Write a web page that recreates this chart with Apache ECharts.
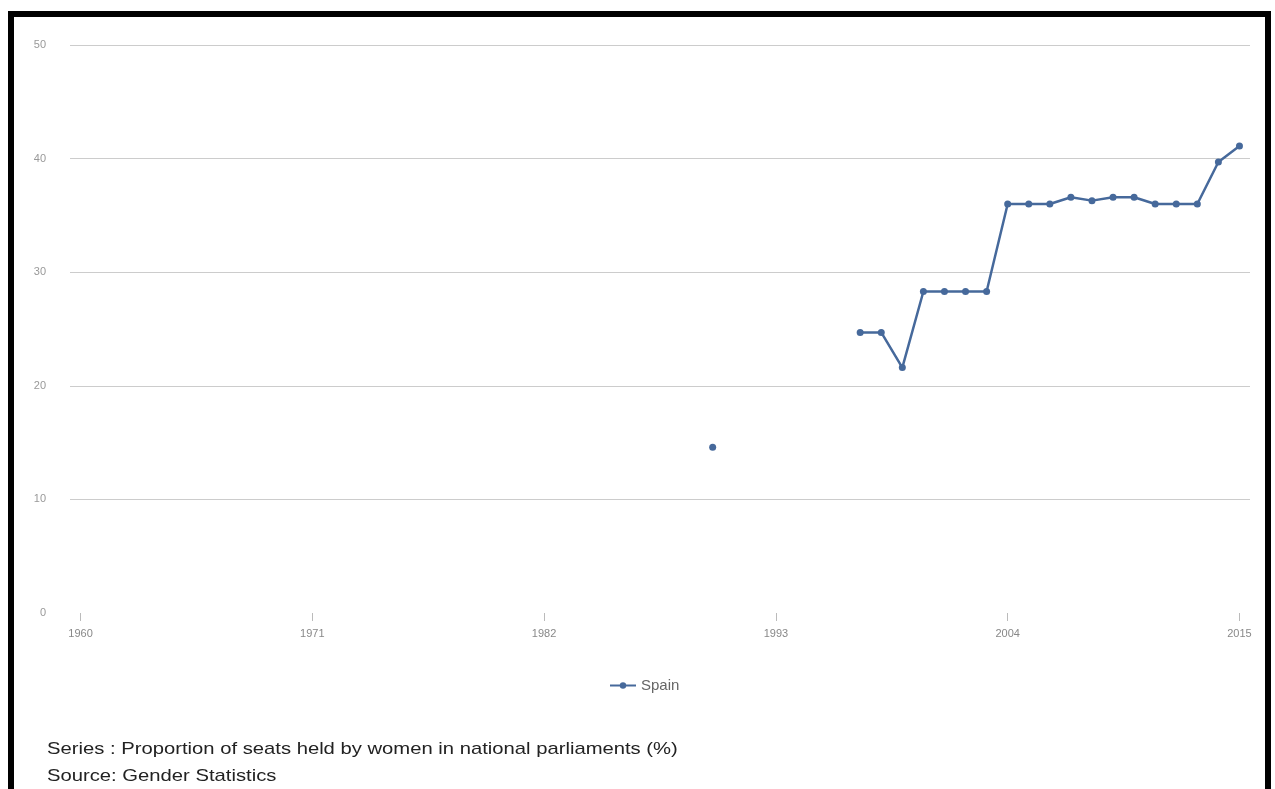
<!DOCTYPE html>
<html>
<head>
<meta charset="utf-8">
<script src="https://cdn.jsdelivr.net/npm/echarts@6/dist/echarts.min.js"></script>
<style>
html,body{margin:0;padding:0;background:#fff;overflow:hidden;}
#frame{position:absolute;left:8px;top:11px;width:1251px;height:800px;border:6px solid #000;border-bottom:none;}
#chart{position:absolute;left:0;top:0;width:1275px;height:789px;}
</style>
</head>
<body>
<div id="frame"></div>
<div id="chart"></div>
<script>
const years = [];
for (let y = 1960; y <= 2015; y++) years.push(String(y));
const dataYears = ['1990','1997','1998','1999','2000','2001','2002','2003','2004','2005','2006','2007','2008','2009','2010','2011','2012','2013','2014','2015'];
const dataValues = [14.6,24.7,24.7,21.6,28.3,28.3,28.3,28.3,36.0,36.0,36.0,36.6,36.3,36.6,36.6,36.0,36.0,36.0,39.7,41.1];
const seriesName = 'Spain';
const footerLines = ['Series : Proportion of seats held by women in national parliaments (%)', 'Source: Gender Statistics'];

const valueMap = {};
dataYears.forEach((y, i) => valueMap[y] = dataValues[i]);
const seriesData = years.map(y => (y in valueMap ? valueMap[y] : null));

const chart = echarts.init(document.getElementById('chart'));
const color = '#46699b';
const font = 'Liberation Sans, Arial, sans-serif';
chart.setOption({
  backgroundColor: 'transparent',
  animation: false,
  grid: {left: 70, right: 25, top: 45, bottom: 176, containLabel: false},
  xAxis: {
    type: 'category',
    data: years,
    boundaryGap: true,
    axisLine: {show: false},
    axisTick: {show: true, alignWithLabel: true, interval: 10, length: 8, lineStyle: {color: '#bbb'}},
    axisLabel: {interval: 10, color: '#888', fontSize: 11, margin: 15, fontFamily: font},
    splitLine: {show: false}
  },
  yAxis: {
    type: 'value',
    min: 0, max: 50, interval: 10,
    axisLine: {show: false},
    axisTick: {show: false},
    axisLabel: {color: '#999', fontSize: 11, margin: 24, fontFamily: font},
    splitLine: {lineStyle: {color: ['rgba(0,0,0,0)', '#cccccc', '#cccccc', '#cccccc', '#cccccc', '#cccccc'], width: 1}}
  },
  legend: {
    data: [seriesName],
    bottom: 91,
    left: 604,
    itemWidth: 26,
    itemHeight: 8,
    itemGap: 10,
    textStyle: {color: '#666', fontSize: 15, fontFamily: font}
  },
  series: [{
    name: seriesName,
    type: 'line',
    data: seriesData,
    connectNulls: false,
    symbol: 'circle',
    symbolSize: 7,
    showSymbol: true,
    lineStyle: {color: color, width: 2.5},
    itemStyle: {color: color}
  }],
  graphic: footerLines.map((t, i) => ({
    type: 'text',
    x: 47,
    y: 741 + i * 27,
    scaleX: 1.19,
    style: {text: t, fill: '#222', fontSize: 17, fontFamily: font}
  }))
});
</script>
</body>
</html>
